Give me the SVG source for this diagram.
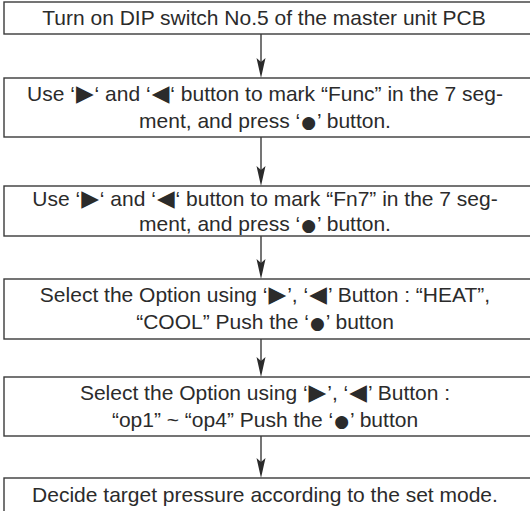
<svg xmlns="http://www.w3.org/2000/svg" width="530" height="511" viewBox="0 0 530 511">
<defs>
<style>
.box{fill:#fff;stroke:#3a3a3a;stroke-width:1.4}
.t{font-family:"Liberation Sans","DejaVu Sans",Arial,sans-serif;font-size:21px;fill:#2b2b2b;text-anchor:middle}
.s{font-family:"DejaVu Sans",sans-serif;font-size:23px}
.d{font-family:"DejaVu Sans",sans-serif;font-size:17px}
.ln{stroke:#2b2b2b;stroke-width:1.3;fill:none}
.ah{fill:#2b2b2b}
</style>
</defs>
<rect width="530" height="511" fill="#fff"/>
<g id="connectors">
<line class="ln" x1="261" y1="34" x2="261" y2="70"/>
<path class="ah" d="M256.5,58 L261,62 L265.5,58 L261,78 Z"/>
<line class="ln" x1="261" y1="137" x2="261" y2="178"/>
<path class="ah" d="M256.5,166 L261,170 L265.5,166 L261,186 Z"/>
<line class="ln" x1="261" y1="236" x2="261" y2="271"/>
<path class="ah" d="M256.5,259 L261,263 L265.5,259 L261,279 Z"/>
<line class="ln" x1="261" y1="339" x2="261" y2="369"/>
<path class="ah" d="M256.5,357 L261,361 L265.5,357 L261,377 Z"/>
<line class="ln" x1="261" y1="436" x2="261" y2="470"/>
<path class="ah" d="M256.5,458 L261,462 L265.5,458 L261,478 Z"/>
</g>
<g id="n1">
<rect class="box" x="4" y="2" width="530" height="32"/>
<text class="t" x="264" y="25">Turn on DIP switch No.5 of the master unit PCB</text>
</g>
<g id="n2">
<rect class="box" x="4" y="78" width="530" height="59"/>
<text class="t" x="265" y="101">Use ‘<tspan class="s" dx="1">▶</tspan><tspan dx="1">‘ and ‘</tspan><tspan class="s" dx="1">◀</tspan><tspan dx="1">‘ button to mark “Func” in the 7 seg-</tspan></text>
<text class="t" x="265" y="128">ment, and press ‘<tspan class="d" dx="1">●</tspan><tspan dx="1">’ button.</tspan></text>
</g>
<g id="n3">
<rect class="box" x="4" y="186" width="530" height="50"/>
<text class="t" x="265" y="206">Use ‘<tspan class="s" dx="1">▶</tspan><tspan dx="1">‘ and ‘</tspan><tspan class="s" dx="1">◀</tspan><tspan dx="1">‘ button to mark “Fn7” in the 7 seg-</tspan></text>
<text class="t" x="265" y="231">ment, and press ‘<tspan class="d" dx="1">●</tspan><tspan dx="1">’ button.</tspan></text>
</g>
<g id="n4">
<rect class="box" x="4" y="279" width="530" height="60"/>
<text class="t" x="265" y="302">Select the Option using ‘<tspan class="s" dx="1">▶</tspan><tspan dx="1">’, ‘</tspan><tspan class="s" dx="1">◀</tspan><tspan dx="1">’ Button : “HEAT”,</tspan></text>
<text class="t" x="265" y="329">“COOL” Push the ‘<tspan class="d" dx="1">●</tspan><tspan dx="1">’ button</tspan></text>
</g>
<g id="n5">
<rect class="box" x="4" y="377" width="530" height="59"/>
<text class="t" x="265" y="400">Select the Option using ‘<tspan class="s" dx="1">▶</tspan><tspan dx="1">’, ‘</tspan><tspan class="s" dx="1">◀</tspan><tspan dx="1">’ Button :</tspan></text>
<text class="t" x="265" y="427">“op1” ~ “op4” Push the ‘<tspan class="d" dx="1">●</tspan><tspan dx="1">’ button</tspan></text>
</g>
<g id="n6">
<rect class="box" x="4" y="478" width="530" height="40"/>
<text class="t" x="265" y="502">Decide target pressure according to the set mode.</text>
</g>
</svg>
